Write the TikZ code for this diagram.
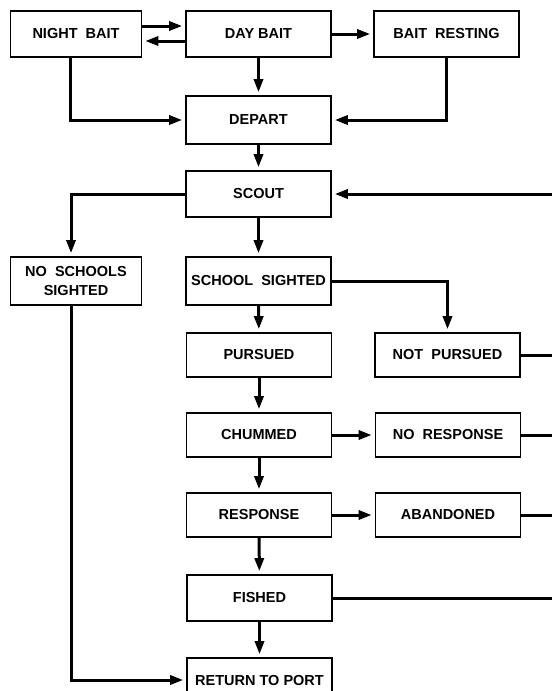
\documentclass[tikz,border=0pt]{standalone}
\usepackage{fontspec}
\setmainfont{Liberation Sans}
\usepackage{tikz}
\usetikzlibrary{arrows.meta,calc,positioning}

\begin{document}
\begin{tikzpicture}[x=1pt,y=-1pt,font=\fontsize{14.5}{19}\selectfont\bfseries,
    box/.style={draw,line width=1.6pt,minimum width=145pt,minimum height=46pt,inner sep=0pt,align=center},
    arr/.style={line width=3pt,-{Triangle[length=13pt,width=9pt]},shorten >=3pt},
    link/.style={line width=3pt}]
  \useasboundingbox (0,0) rectangle (552,691);
  \clip (0,0) rectangle (552,691);
  % bait states
  \node[box,minimum width=131pt] (night) at (76,34) {NIGHT\ \ BAIT};
  \node[box] (day) at (258.5,34) {DAY BAIT};
  \node[box] (rest) at (446.5,34) {BAIT\ \ RESTING};
  \node[box,minimum height=48pt] (depart) at (258.5,120) {DEPART};
  \node[box] (scout) at (258.5,194) {SCOUT};
  \node[box,minimum width=131pt,minimum height=48pt] (nosch) at (76,281) {NO\ \ SCHOOLS\\SIGHTED};
  \node[box,minimum height=48pt] (sighted) at (258.5,281) {SCHOOL\ \ SIGHTED};
  % school handling
  \node[box,minimum height=44pt] (pursued) at (259,355) {PURSUED};
  \node[box,minimum height=44pt] (notp) at (447.5,355) {NOT\ \ PURSUED};
  \node[box,minimum height=44pt] (chum) at (259,435) {CHUMMED};
  \node[box,minimum height=44pt] (nores) at (448,435) {NO\ \ RESPONSE};
  \node[box,minimum height=44pt] (resp) at (259,515) {RESPONSE};
  \node[box,minimum height=44pt] (aband) at (448,515) {ABANDONED};
  \node[box] (fished) at (259.5,598) {FISHED};
  \node[box,minimum height=44pt] (port) at (259.5,680) {RETURN TO PORT};
  % loop lines run off the right edge
  \coordinate (edge) at (552,0);

  \draw[arr] ([yshift=8pt]night.east) -- ([yshift=8pt]day.west);
  \draw[arr] ([yshift=-7pt]day.west) -- ([yshift=-7pt]night.east);
  \draw[arr] (day) -- (rest);
  \draw[arr] (day) -- (depart);
  \draw[arr] ([xshift=-6pt]night.south) |- (depart.west);
  \draw[arr] (rest.south) |- (depart.east);
  \draw[arr] (depart) -- (scout);
  \draw[arr] (scout.west) -| ([xshift=-5pt]nosch.north);
  \draw[arr] (scout.east -| edge) -- (scout.east);
  \draw[arr] (scout) -- (sighted);
  \draw[arr] (sighted.east) -| (notp.north);
  \draw[arr] (sighted) -- (pursued);
  \draw[arr] (pursued) -- (chum);
  \draw[arr] (chum) -- (resp);
  \draw[arr] (resp) -- (fished);
  \draw[arr] (fished) -- (port);
  \draw[arr] (chum) -- (nores);
  \draw[arr] (resp) -- (aband);
  \draw[arr] ([xshift=-5pt]nosch.south) |- (port.west);
  \draw[link] (notp.east) -- (notp.east -| edge);
  \draw[link] (nores.east) -- (nores.east -| edge);
  \draw[link] (aband.east) -- (aband.east -| edge);
  \draw[link] (fished.east) -- (fished.east -| edge);
\end{tikzpicture}
\end{document}
